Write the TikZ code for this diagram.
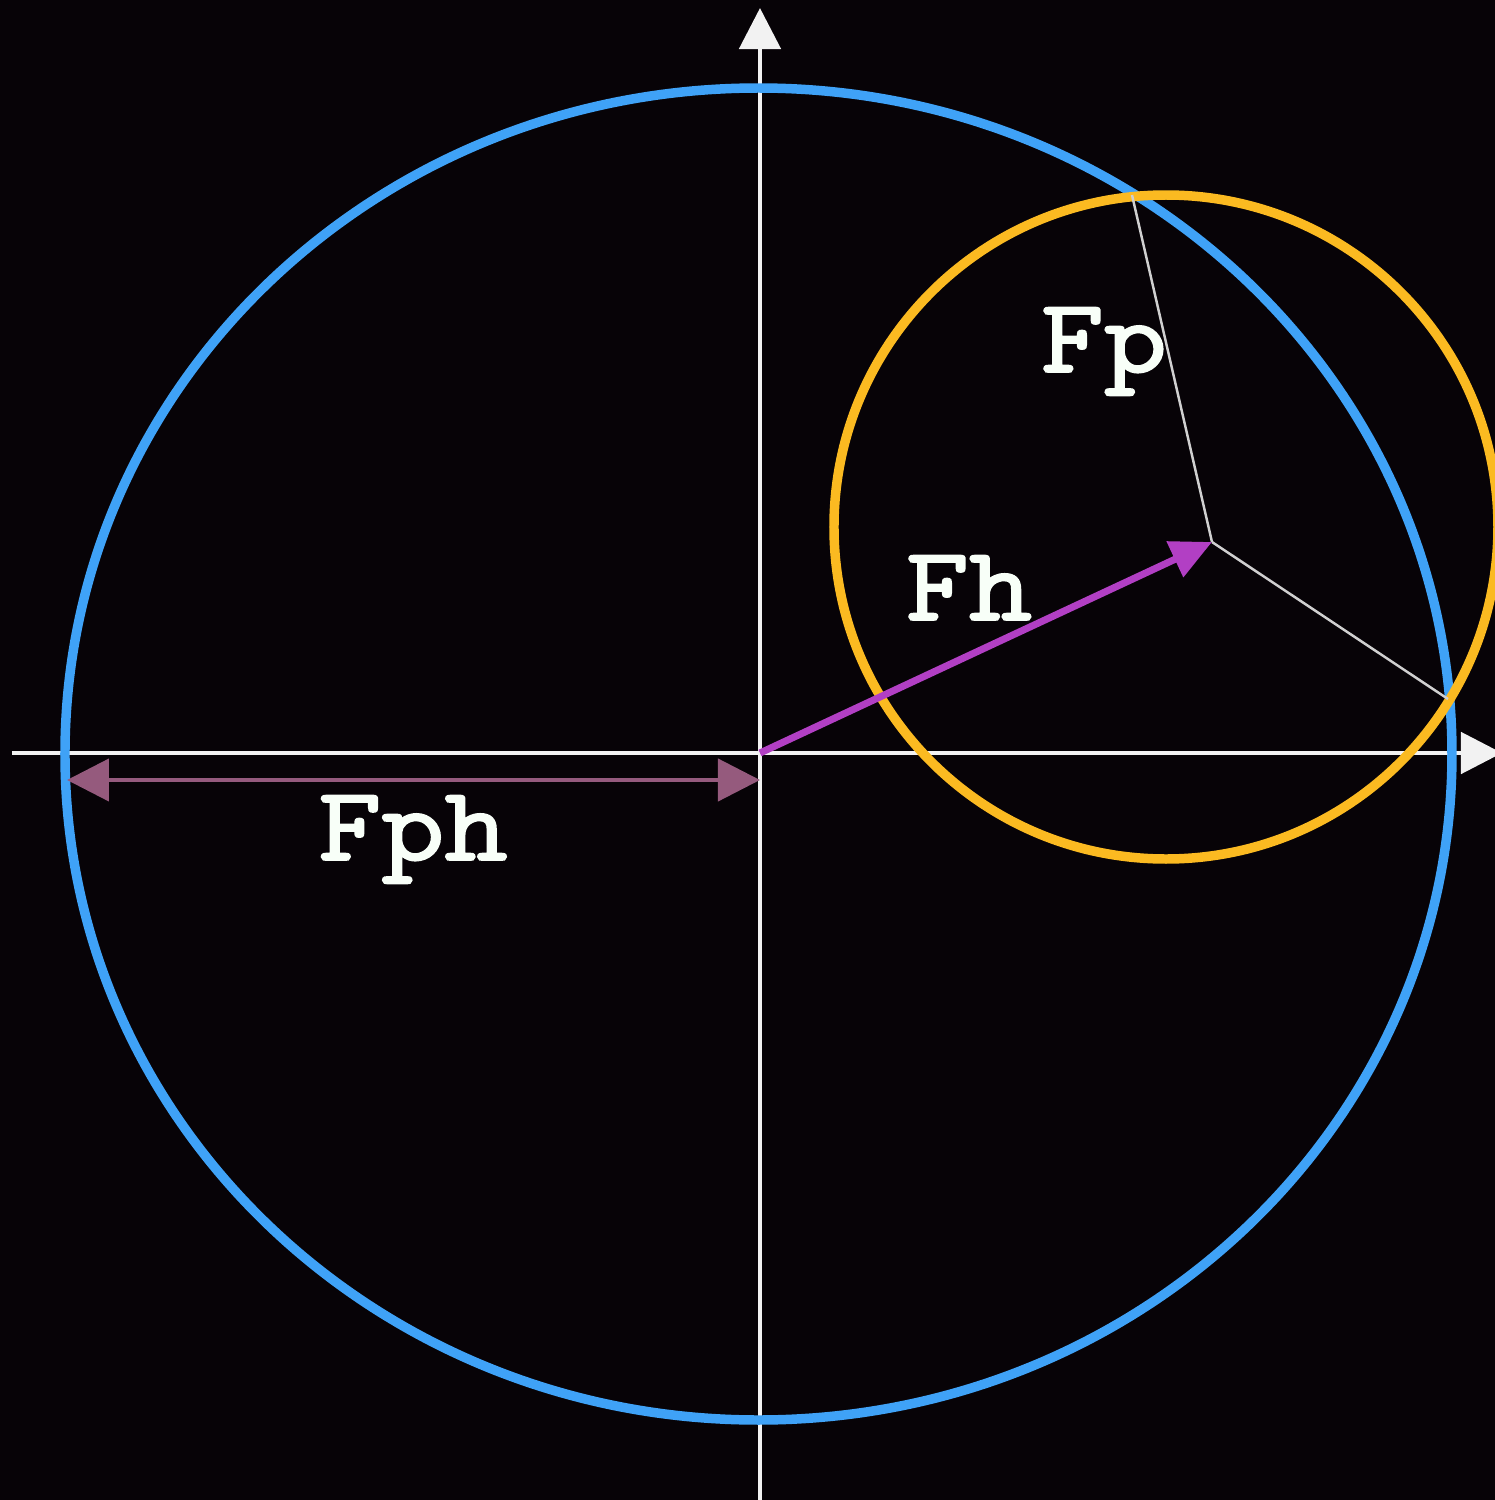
\documentclass[tikz,border=0pt]{standalone}
\usepackage{fontspec}
\newfontfamily\labfont{lmmono10-regular.otf}[FakeStretch=1.14, FakeBold=1.8]
\usetikzlibrary{arrows.meta,positioning}

\definecolor{bgcol}{HTML}{070307}
\definecolor{ellblue}{HTML}{3FA2F7}
\definecolor{circorange}{HTML}{FBBA21}
\definecolor{vecmag}{HTML}{B23FC4}
\definecolor{dimmauve}{HTML}{955A7D}
\definecolor{axiswhite}{HTML}{F2F2F2}
\definecolor{thinwhite}{HTML}{D0D0D0}
\definecolor{labwhite}{HTML}{F8FFF8}

\begin{document}
\begin{tikzpicture}[
    axis/.style={draw=axiswhite, line width=1.4pt,
                 -{Triangle[length=4.1mm, width=4.1mm]}},
    orbit/.style={line width=2.7pt},
    vec/.style={draw=vecmag, line width=2pt,
                -{Triangle[length=4.1mm, width=3.8mm]}},
    dim/.style={draw=dimmauve, line width=1.2pt,
                {Triangle[length=4.2mm, width=4.2mm]}-{Triangle[length=4.2mm, width=4.2mm]}},
    spoke/.style={draw=thinwhite, line width=0.7pt},
    lab/.style={font=\labfont\fontsize{30}{30}\selectfont,
                text=labwhite, anchor=base, inner sep=0pt}
]
  % background and frame
  \fill[bgcol] (-7.60,-7.47) rectangle (7.35,7.53);
  \useasboundingbox (-7.60,-7.47) rectangle (7.35,7.53);

  \coordinate (O)     at (0,0);
  \coordinate (xl)    at (-7.48,0);
  \coordinate (xr)    at (7.42,0);
  \coordinate (yb)    at (0,-7.50);
  \coordinate (yt)    at (0,7.45);
  \coordinate (C)     at (4.06,2.26);
  \coordinate (tip)   at (4.52,2.11);
  \coordinate (ptop)  at (3.72,5.58);
  \coordinate (pright) at (6.88,0.54);
  \coordinate (dl)    at (-6.93,-0.27);
  \coordinate (dr)    at (0,-0.27);

  \draw[axis] (xl) -- (xr);
  \draw[axis] (yb) -- (yt);

  \draw[orbit, ellblue] (-0.015,-0.01) ellipse [x radius=6.935, y radius=6.66];
  \draw[orbit, circorange] (C) circle [radius=3.32];

  \draw[spoke] (tip) -- (ptop);
  \draw[spoke] (tip) -- (pright);
  \draw[vec] (O) -- (tip);
  \draw[dim] (dl) -- (dr);

  \node[lab] (fph) at (-3.47,-1.07) {Fph};
  \node[lab] (fh)  at (2.09,1.33)   {Fh};
  \node[lab] (fp)  at (3.44,3.81)   {Fp};
\end{tikzpicture}
\end{document}
